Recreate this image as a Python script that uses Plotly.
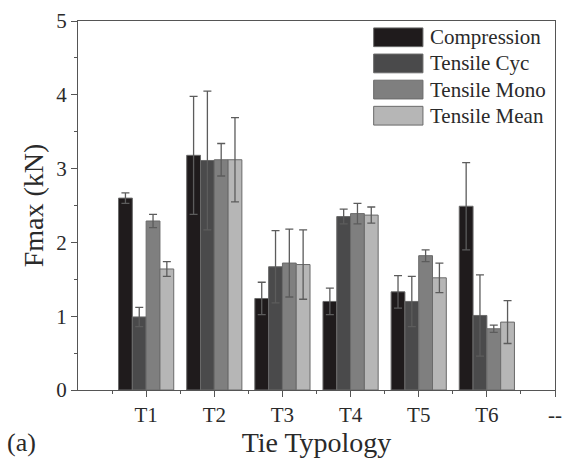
import plotly.graph_objects as go

# Tie typologies on the x axis (the trailing "--" slot is left empty)
categories = ["T1", "T2", "T3", "T4", "T5", "T6"]
extra_tick = "--"

series_names = ["Compression", "Tensile Cyc", "Tensile Mono", "Tensile Mean"]

compression = [2.60, 3.18, 1.24, 1.20, 1.33, 2.49]
compression_err = [0.07, 0.80, 0.22, 0.18, 0.22, 0.59]

tensile_cyc = [0.99, 3.11, 1.67, 2.35, 1.20, 1.01]
tensile_cyc_err = [0.13, 0.94, 0.49, 0.10, 0.34, 0.55]

tensile_mono = [2.29, 3.12, 1.72, 2.39, 1.82, 0.83]
tensile_mono_err = [0.09, 0.22, 0.46, 0.14, 0.08, 0.05]

tensile_mean = [1.64, 3.12, 1.70, 2.37, 1.52, 0.92]
tensile_mean_err = [0.10, 0.57, 0.47, 0.11, 0.20, 0.29]

values = [compression, tensile_cyc, tensile_mono, tensile_mean]
errors = [compression_err, tensile_cyc_err, tensile_mono_err, tensile_mean_err]
colors = ["#1f1b1c", "#4a4a4b", "#7f7f7f", "#b6b6b6"]

FONT = "Liberation Serif"
TXT = "#2a2a2a"
W, H = 571, 466
ML, MR, MT, MB = 78, 9, 16, 76
PW, PH = W - ML - MR, H - MT - MB

xpos = list(range(1, len(categories) + 1))

fig = go.Figure()
for name, vals, errs, col in zip(series_names, values, errors, colors):
    fig.add_trace(go.Bar(
        x=xpos, y=vals, name=name,
        marker=dict(color=col, line=dict(color="#6a6a6a", width=1)),
        error_y=dict(type="data", array=errs, visible=True,
                     color="#5c5c5c", thickness=1.3, width=4),
        showlegend=False,
    ))

# Hand-drawn legend with wide swatches
def px_x(px):
    return (px - ML) / PW

def px_y(py):
    return (H - MB - py) / PH

shapes = []
annotations = []
row_top = [23, 49.5, 76, 102.5]
for name, col, top in zip(series_names, colors, row_top):
    shapes.append(dict(type="rect", xref="paper", yref="paper",
                       x0=px_x(378), x1=px_x(428), y0=px_y(top + 19), y1=px_y(top),
                       fillcolor=col, line=dict(color="#6a6a6a", width=1)))
    annotations.append(dict(xref="paper", yref="paper", x=px_x(433), y=px_y(top + 9.5),
                            text=name, showarrow=False, xanchor="left", yanchor="middle",
                            font=dict(family=FONT, size=21, color=TXT)))

annotations.append(dict(xref="paper", yref="paper", x=px_x(4), y=px_y(443),
                        text="(a)", showarrow=False, xanchor="left", yanchor="middle",
                        font=dict(family=FONT, size=26, color=TXT)))

fig.update_layout(
    width=W, height=H,
    margin=dict(l=ML, r=MR, t=MT, b=MB),
    paper_bgcolor="white", plot_bgcolor="white",
    barmode="group", bargap=0.19, bargroupgap=0,
    font=dict(family=FONT, color=TXT),
    shapes=shapes, annotations=annotations,
    xaxis=dict(
        range=[0, 7],
        tickvals=list(range(1, len(categories) + 2)),
        ticktext=categories + [extra_tick],
        ticks="outside", ticklen=6, tickwidth=1, tickcolor="#555",
        minor=dict(tickvals=[0.5 + i for i in range(7)], ticks="outside",
                   ticklen=3, tickcolor="#555"),
        showline=True, linecolor="#555", linewidth=1.3, mirror=True,
        showgrid=False, zeroline=False,
        tickfont=dict(family=FONT, size=21, color=TXT),
        title=dict(text="Tie Typology", font=dict(family=FONT, size=28, color=TXT),
                   standoff=4),
    ),
    yaxis=dict(
        range=[0, 5], tickvals=[0, 1, 2, 3, 4, 5],
        ticks="outside", ticklen=6, tickwidth=1, tickcolor="#555",
        minor=dict(dtick=0.5, ticks="outside", ticklen=3, tickcolor="#555"),
        showline=True, linecolor="#555", linewidth=1.3, mirror=True,
        showgrid=False, zeroline=False,
        tickfont=dict(family=FONT, size=21, color=TXT),
        title=dict(text="Fmax (kN)", font=dict(family=FONT, size=28, color=TXT),
                   standoff=4),
    ),
)

fig.write_html("out.html")
